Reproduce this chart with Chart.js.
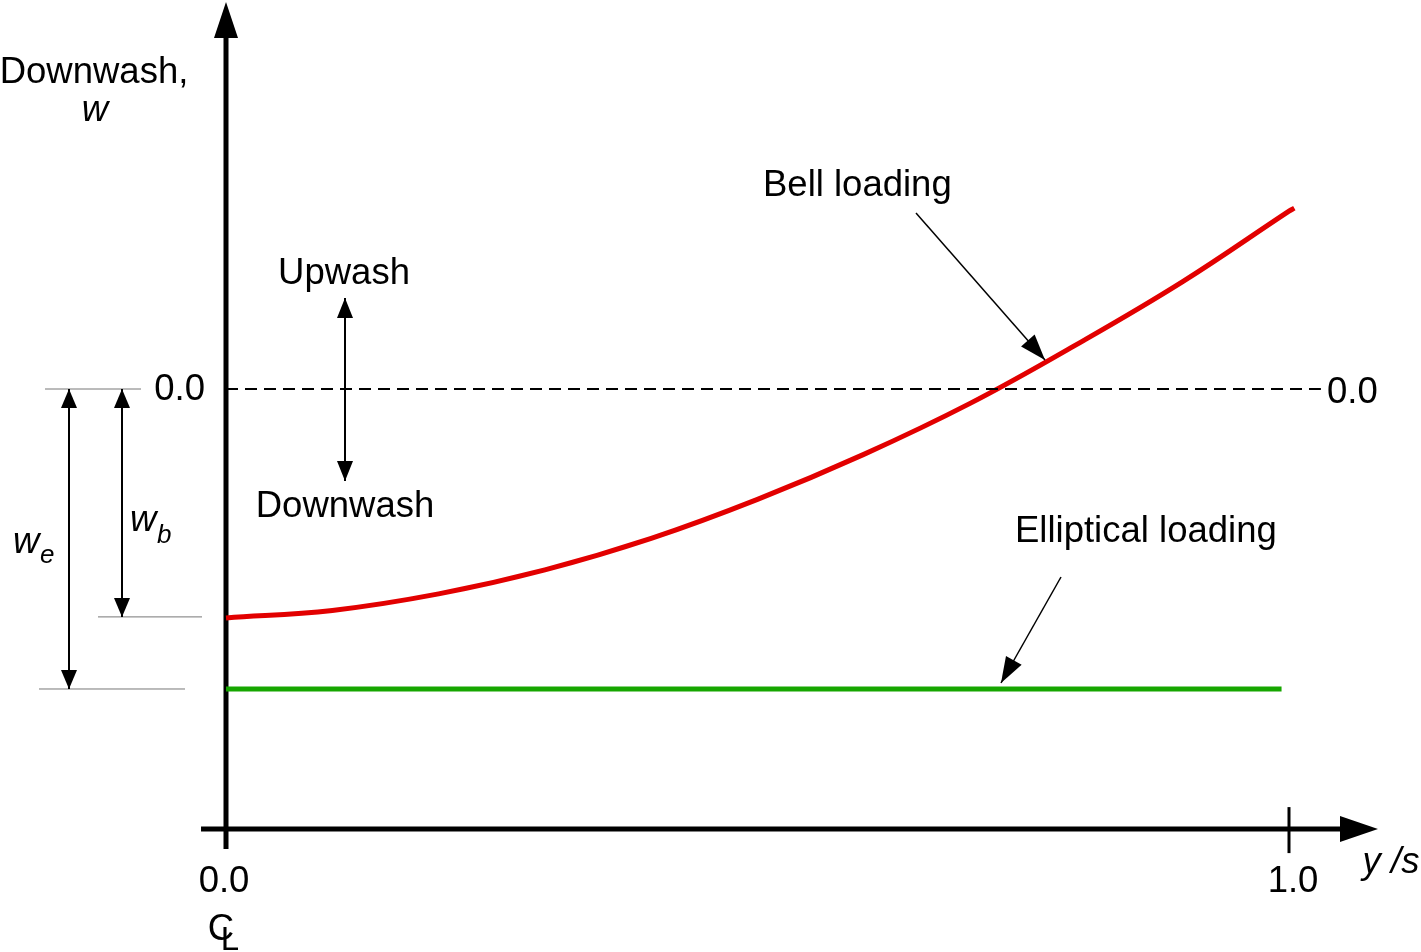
<!DOCTYPE html>
<html>
<head>
<meta charset="utf-8">
<script src="https://cdn.jsdelivr.net/npm/chart.js@4/dist/chart.umd.min.js"></script>
<style>
  html, body { margin: 0; padding: 0; background: #fff; }
  #wrap { width: 1421px; height: 952px; position: relative; }
</style>
</head>
<body>
<div id="wrap"><canvas id="chart-downwash"></canvas></div>
<script>
// spanwise station y/s and downwash w (elliptical downwash = -1, 0 = dashed line)
var spanX = [0, 0.1, 0.2, 0.3, 0.4, 0.5, 0.6, 0.7, 0.8, 0.9, 1.0, 1.005];
var bellW = [-0.763, -0.738, -0.683, -0.603, -0.498, -0.368, -0.218, -0.048, 0.148, 0.358, 0.593, 0.603];
var ellipX = [0, 0.993];
var ellipW = [-1, -1];
var zeroX = [0, 1.03];
var zeroW = [0, 0];
var xTicks = [0, 1];
var xTickLabels = ['0.0', '1.0'];

var FONT = '"Liberation Sans", Arial, sans-serif';
var FS = 36.5;

function pts(xs, ys) {
  return xs.map(function(x, i) { return { x: x, y: ys[i] }; });
}

function head(ctx, x1, y1, x2, y2, len, hw) {
  var a = Math.atan2(y2 - y1, x2 - x1);
  var bx = x2 - len * Math.cos(a), by = y2 - len * Math.sin(a);
  ctx.beginPath();
  ctx.moveTo(x2, y2);
  ctx.lineTo(bx + hw * Math.sin(a), by - hw * Math.cos(a));
  ctx.lineTo(bx - hw * Math.sin(a), by + hw * Math.cos(a));
  ctx.closePath();
  ctx.fill();
}

function arrow(ctx, x1, y1, x2, y2, lw, len, hw, both) {
  ctx.lineWidth = lw;
  ctx.beginPath();
  ctx.moveTo(x1, y1);
  ctx.lineTo(x2, y2);
  ctx.stroke();
  head(ctx, x1, y1, x2, y2, len, hw);
  if (both) head(ctx, x2, y2, x1, y1, len, hw);
}

function line(ctx, x1, y1, x2, y2, lw, col) {
  ctx.strokeStyle = col;
  ctx.lineWidth = lw;
  ctx.beginPath();
  ctx.moveTo(x1, y1);
  ctx.lineTo(x2, y2);
  ctx.stroke();
}

function text(ctx, s, x, y, size, align, italic) {
  ctx.font = (italic ? 'italic ' : '') + size + 'px ' + FONT;
  ctx.textAlign = align || 'left';
  ctx.textBaseline = 'alphabetic';
  ctx.fillText(s, x, y);
}

var axesPlugin = {
  id: 'axesPlugin',
  beforeDatasetsDraw: function(chart) {
    var ctx = chart.ctx, xs = chart.scales.x, ys = chart.scales.y;
    var x0 = xs.getPixelForValue(0);
    var yAx = ys.getPixelForValue(-1.467);
    ctx.save();
    ctx.fillStyle = '#000';
    ctx.strokeStyle = '#000';
    // vertical axis
    line(ctx, x0, ys.getPixelForValue(-1.533), x0, 30, 5, '#000');
    head(ctx, x0, 100, x0, 2, 36, 12);
    // horizontal axis
    line(ctx, xs.getPixelForValue(-0.0235), yAx, 1345, yAx, 5, '#000');
    head(ctx, 1200, yAx, 1378, yAx, 38, 13);
    // tick at 1.0
    var x1 = xs.getPixelForValue(xTicks[1]);
    line(ctx, x1, yAx - 22, x1, yAx + 24, 3, '#000');
    ctx.restore();
  },
  afterDatasetsDraw: function(chart) {
    var ctx = chart.ctx, xs = chart.scales.x, ys = chart.scales.y;
    var yZero = ys.getPixelForValue(0);
    var yBell = ys.getPixelForValue(bellW[0]);
    var yEll = ys.getPixelForValue(ellipW[0]);
    ctx.save();
    ctx.fillStyle = '#000';
    ctx.strokeStyle = '#000';

    // axis titles
    text(ctx, 'Downwash,', 94, 83, FS, 'center');
    text(ctx, 'w', 95, 121, FS, 'center', true);
    text(ctx, 'y /s', 1391, 873, FS, 'center', true);

    // tick labels
    text(ctx, '0.0', 205, yZero + 11, FS, 'right');
    text(ctx, '0.0', 1327, yZero + 14, FS, 'left');
    text(ctx, xTickLabels[0], xs.getPixelForValue(xTicks[0]) - 2, 892, FS, 'center');
    text(ctx, xTickLabels[1], xs.getPixelForValue(xTicks[1]) + 4, 892, FS, 'center');
    // centre-line symbol
    text(ctx, 'C', 221, 940, FS, 'center');
    text(ctx, 'L', 230, 950, 33, 'center');

    // upwash / downwash
    text(ctx, 'Upwash', 344, 284, FS, 'center');
    text(ctx, 'Downwash', 345, 517, FS, 'center');
    ctx.strokeStyle = '#000';
    arrow(ctx, 345, 298, 345, 481, 2, 20, 8, true);

    // curve labels
    text(ctx, 'Bell loading', 763, 196, FS, 'left');
    arrow(ctx, 916, 213, 1045, 360, 1.5, 26, 9, false);
    text(ctx, 'Elliptical loading', 1015, 542, FS, 'left');
    arrow(ctx, 1061, 577, 1001, 683, 1.5, 26, 9, false);

    // dimension lines
    line(ctx, 45, yZero, 141, yZero, 1, '#777');
    line(ctx, 98, yBell - 1, 202, yBell - 1, 1, '#777');
    line(ctx, 39, yEll, 185, yEll, 1, '#777');
    ctx.strokeStyle = '#000';
    arrow(ctx, 69, yZero, 69, yEll, 2, 19, 8, true);
    arrow(ctx, 122, yZero, 122, yBell - 1, 2, 19, 8, true);
    text(ctx, 'w', 13, 553, FS, 'left', true);
    text(ctx, 'e', 40, 563, 26, 'left', true);
    text(ctx, 'w', 130, 531, FS, 'left', true);
    text(ctx, 'b', 157, 543, 26, 'left', true);
    ctx.restore();
  }
};

var downwashChart = new Chart(document.getElementById('chart-downwash').getContext('2d'), {
  type: 'scatter',
  data: {
    datasets: [{
      label: 'Zero',
      data: pts(zeroX, zeroW),
      showLine: true,
      borderColor: '#000',
      borderWidth: 2,
      borderDash: [12, 7],
      pointRadius: 0
    }, {
      label: 'Elliptical loading',
      data: pts(ellipX, ellipW),
      showLine: true,
      borderColor: '#16a600',
      borderWidth: 5,
      pointRadius: 0
    }, {
      label: 'Bell loading',
      data: pts(spanX, bellW),
      showLine: true,
      borderColor: '#e20000',
      borderWidth: 5,
      pointRadius: 0,
      tension: 0.4
    }]
  },
  options: {
    responsive: true,
    maintainAspectRatio: false,
    animation: false,
    layout: { padding: 0 },
    plugins: {
      legend: { display: false },
      tooltip: { enabled: false }
    },
    scales: {
      x: { type: 'linear', display: false, min: -0.21261, max: 1.12418 },
      y: { type: 'linear', display: false, min: -1.87667, max: 1.29667 }
    }
  },
  plugins: [axesPlugin]
});
</script>
</body>
</html>
